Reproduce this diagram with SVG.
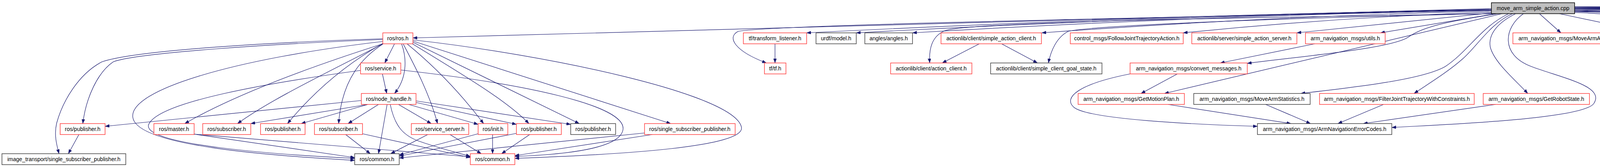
<svg xmlns="http://www.w3.org/2000/svg" width="7593" height="427" viewBox="0 0 7593 427">
<style>
.e{fill:none;stroke:#191970;stroke-width:1.2;marker-end:url(#ah)}
.n rect{fill:#ffffff;stroke-width:1.5}
.r rect{stroke:#ff4040}
.b rect{stroke:#404040}
.g rect{stroke:#bfbfbf}
.root rect{fill:#bfbfbf;stroke:#000000}
text{font-family:"Liberation Sans",Arial,Helvetica,sans-serif;font-size:14px;fill:#000000;text-anchor:middle}
</style>
<defs>
<marker id="ah" viewBox="0 0 11 8" refX="11" refY="4" markerWidth="11" markerHeight="8" markerUnits="userSpaceOnUse" orient="auto"><path d="M0,0 L11,4 L0,8 z" fill="#191970" stroke="#191970" stroke-width="0.5"/></marker>
</defs>
<rect x="0" y="0" width="7593" height="427" fill="#ffffff"/>
<g id="connectors">
<path class="e" d="M3818,22 L1057,97"/>
<path class="e" d="M3818,24 Q2940,40 2065,84"/>
<path class="e" d="M3818,26 C3000,45 2000,62 1890,80 C1860,95 1880,130 1962,161"/>
<path class="e" d="M3818,25 Q3005,40 2192,84"/>
<path class="e" d="M3818,26 Q3077,40 2336,84"/>
<path class="e" d="M3818,28 Q3242,42 2667,84"/>
<path class="e" d="M3822,35 C3200,45 2500,55 2420,78 C2385,92 2378,125 2380,161"/>
<path class="e" d="M3826,35 C3300,45 2800,65 2735,80 C2705,95 2690,130 2684,161"/>
<path class="e" d="M3818,31 Q3423,44 3029,84"/>
<path class="e" d="M3818,33 L3320,84"/>
<path class="e" d="M3830,35 L3534,84"/>
<path class="e" d="M3836,35 C3700,55 3640,70 3605,95 C3560,125 3320,145 3193,162"/>
<path class="e" d="M3845,35 L2981,239"/>
<path class="e" d="M3862,35 C3790,70 3760,130 3700,170 C3640,205 3450,225 3330,239"/>
<path class="e" d="M3872,35 C3815,60 3780,120 3745,150 C3705,185 3660,212 3620,239"/>
<path class="e" d="M3880,35 C3830,60 3810,90 3815,120 C3825,160 3880,205 3911,239"/>
<path class="e" d="M3900,35 C3850,70 3840,140 3920,170 C4000,200 4110,220 4080,265 C4050,305 3700,318 3563,326"/>
<path class="e" d="M3941,35 L3996,84"/>
<path class="e" d="M3992,35 L4225,84"/>
<path class="e" d="M4031,32 Q4253,40 4475,84"/>
<path class="e" d="M4031,30 Q4410,38 4788,84"/>
<path class="e" d="M4031,29 Q4539,36 5047,84"/>
<path class="e" d="M4031,28 Q4661,34 5291,84"/>
<path class="e" d="M4031,26 Q4840,32 5648,84"/>
<path class="e" d="M4031,27 C4800,40 5500,65 5570,77 C5610,90 5640,120 5676,161"/>
<path class="e" d="M4031,24 Q4967,30 5904,84"/>
<path class="e" d="M4031,23 Q5133,29 6235,84"/>
<path class="e" d="M4031,22 Q5268,28 6505,84"/>
<path class="e" d="M4031,23 C5500,50 6400,70 6440,82 C6480,100 6520,130 6545,161"/>
<path class="e" d="M4031,21 Q5434,27 6838,84"/>
<path class="e" d="M4031,20 Q5601,26 7172,84"/>
<path class="e" d="M4031,19 Q5677,25 7324,84"/>
<path class="e" d="M4031,18 Q5726,25 7421,84"/>
<path class="e" d="M4031,17 Q5779,24 7527,84"/>
<path class="e" d="M1984,112 L1984,161"/>
<path class="e" d="M2507,112 L2412,161"/>
<path class="e" d="M2564,112 L2656,161"/>
<path class="e" d="M3366,112 L3124,161"/>
<path class="e" d="M3014,189 L2921,239"/>
<path class="e" d="M2893,189 C2760,215 2720,250 2750,275 C2790,305 3050,318 3219,323"/>
<path class="e" d="M2990,267 L3305,316"/>
<path class="e" d="M3240,267 L3355,316"/>
<path class="e" d="M3542,267 L3425,316"/>
<path class="e" d="M3829,267 L3490,316"/>
<path class="e" d="M5748,112 L5701,161"/>
<path class="e" d="M6639,112 L6580,161"/>
<path class="e" d="M1010,112 L985,161"/>
<path class="e" d="M1028,112 C1042,150 1042,200 1010,239"/>
<path class="e" d="M979,189 L990,239"/>
<path class="e" d="M981,112 C930,145 875,200 867,316"/>
<path class="e" d="M980,111 Q840,190 736,316"/>
<path class="e" d="M1032,112 C1060,165 1100,240 1120,316"/>
<path class="e" d="M1042,112 Q1150,200 1238,316"/>
<path class="e" d="M1054,111 C1200,200 1300,260 1354,316"/>
<path class="e" d="M1057,108 L1483,316"/>
<path class="e" d="M1057,105 L1717,316"/>
<path class="e" d="M1057,102 C1400,140 1880,240 1898,325 C1910,375 1600,395 1318,405"/>
<path class="e" d="M1026,179 C1350,215 1600,270 1595,330 C1590,380 1450,395 1318,400"/>
<path class="e" d="M923,180 C700,210 400,260 380,320 C370,370 700,395 908,405"/>
<path class="e" d="M980,106 C600,150 330,230 340,300 C350,375 700,398 908,410"/>
<path class="e" d="M980,99 C700,108 350,128 261,158 C200,190 160,260 145,315 C138,345 145,370 151,393"/>
<path class="e" d="M980,101 C700,112 350,135 290,158 C250,185 220,250 212,316"/>
<path class="e" d="M980,112 Q640,220 473,316"/>
<path class="e" d="M980,112 C850,180 700,250 608,316"/>
<path class="e" d="M925,257 L269,323"/>
<path class="e" d="M942,267 L642,316"/>
<path class="e" d="M942,267 L771,316"/>
<path class="e" d="M969,267 L891,316"/>
<path class="e" d="M991,267 L969,393"/>
<path class="e" d="M999,267 C1010,320 1030,345 1070,360 C1120,378 1170,390 1204,400"/>
<path class="e" d="M1020,267 L1104,316"/>
<path class="e" d="M1046,267 L1224,318"/>
<path class="e" d="M1065,262 L1322,318"/>
<path class="e" d="M1065,258 L1461,318"/>
<path class="e" d="M202,344 L175,393"/>
<path class="e" d="M497,343 L908,403"/>
<path class="e" d="M497,343 L1204,401"/>
<path class="e" d="M885,344 L948,393"/>
<path class="e" d="M928,342 L1204,403"/>
<path class="e" d="M1095,344 L1000,393"/>
<path class="e" d="M1152,344 L1232,393"/>
<path class="e" d="M1224,342 L1022,396"/>
<path class="e" d="M1261,344 L1261,393"/>
<path class="e" d="M1322,341 L1022,399"/>
<path class="e" d="M1356,344 L1284,393"/>
<path class="e" d="M1650,340 L1022,404"/>
<path class="e" d="M1670,344 L1318,398"/>
</g>
<g id="root" class="n root"><rect x="3818" y="7" width="213" height="28"/><text x="3924.5" y="26">move_arm_simple_action.cpp</text></g>
<g id="n_ros" class="n r"><rect x="980" y="84" width="77" height="28"/><text x="1018.5" y="103">ros/ros.h</text></g>
<g id="n_tfl" class="n r"><rect x="1903" y="84" width="162" height="28"/><text x="1984" y="103">tf/transform_listener.h</text></g>
<g id="n_urdf" class="n b"><rect x="2089" y="84" width="103" height="28"/><text x="2140.5" y="103">urdf/model.h</text></g>
<g id="n_angles" class="n b"><rect x="2214" y="84" width="122" height="28"/><text x="2275" y="103">angles/angles.h</text></g>
<g id="n_sac" class="n r"><rect x="2409" y="84" width="257" height="28"/><text x="2537.5" y="103">actionlib/client/simple_action_client.h</text></g>
<g id="n_fjta" class="n r"><rect x="2740" y="84" width="289" height="28"/><text x="2884.5" y="103">control_msgs/FollowJointTrajectoryAction.h</text></g>
<g id="n_sas" class="n r"><rect x="3051" y="84" width="269" height="28"/><text x="3185.5" y="103">actionlib/server/simple_action_server.h</text></g>
<g id="n_utils" class="n r"><rect x="3342" y="84" width="204" height="28"/><text x="3444" y="103">arm_navigation_msgs/utils.h</text></g>
<g id="n_maa" class="n r"><rect x="3873" y="84" width="280" height="28"/><text x="4013" y="103">arm_navigation_msgs/MoveArmAction.h</text></g>
<g id="n_jt" class="n r"><rect x="4177" y="84" width="227" height="28"/><text x="4290.5" y="103">trajectory_msgs/JointTrajectory.h</text></g>
<g id="n_ik" class="n r"><rect x="4428" y="84" width="336" height="28"/><text x="4596" y="103">kinematics_msgs/GetConstraintAwarePositionIK.h</text></g>
<g id="n_fk" class="n b"><rect x="4788" y="84" width="236" height="28"/><text x="4906" y="103">kinematics_msgs/GetPositionFK.h</text></g>
<g id="n_shape" class="n b"><rect x="5047" y="84" width="219" height="28"/><text x="5156.5" y="103">arm_navigation_msgs/Shape.h</text></g>
<g id="n_dt" class="n r"><rect x="5289" y="84" width="284" height="28"/><text x="5431" y="103">arm_navigation_msgs/DisplayTrajectory.h</text></g>
<g id="n_ma" class="n b"><rect x="5647" y="84" width="233" height="28"/><text x="5763.5" y="103">visualization_msgs/MarkerArray.h</text></g>
<g id="n_co" class="n b"><rect x="5902" y="84" width="308" height="28"/><text x="6056" y="103">planning_environment/util/construct_object.h</text></g>
<g id="n_bodies" class="n r"><rect x="6233" y="84" width="197" height="28"/><text x="6331.5" y="103">geometric_shapes/bodies.h</text></g>
<g id="n_mu" class="n r"><rect x="6505" y="84" width="304" height="28"/><text x="6657" y="103">planning_environment/models/model_utils.h</text></g>
<g id="n_spsd" class="n r"><rect x="6833" y="84" width="316" height="28"/><text x="6991" y="103">arm_navigation_msgs/SetPlanningSceneDiff.h</text></g>
<g id="n_bool" class="n g"><rect x="7171" y="84" width="129" height="28"/><text x="7235.5" y="103">std_msgs/Bool.h</text></g>
<g id="n_val" class="n g"><rect x="7323" y="84" width="73" height="28"/><text x="7359.5" y="103">valarray</text></g>
<g id="n_alg" class="n g"><rect x="7420" y="84" width="82" height="28"/><text x="7461" y="103">algorithm</text></g>
<g id="n_cstd" class="n g"><rect x="7527" y="84" width="63" height="28"/><text x="7558.5" y="103">cstdlib</text></g>
<g id="n_srv" class="n r"><rect x="923" y="161" width="103" height="28"/><text x="974.5" y="180">ros/service.h</text></g>
<g id="n_tf" class="n r"><rect x="1957" y="161" width="55" height="28"/><text x="1984.5" y="180">tf/tf.h</text></g>
<g id="n_ac" class="n r"><rect x="2280" y="161" width="208" height="28"/><text x="2384" y="180">actionlib/client/action_client.h</text></g>
<g id="n_scgs" class="n b"><rect x="2536" y="161" width="285" height="28"/><text x="2678.5" y="180">actionlib/client/simple_client_goal_state.h</text></g>
<g id="n_cm" class="n r"><rect x="2893" y="161" width="300" height="28"/><text x="3043" y="180">arm_navigation_msgs/convert_messages.h</text></g>
<g id="n_marker" class="n b"><rect x="5586" y="161" width="201" height="28"/><text x="5686.5" y="180">visualization_msgs/Marker.h</text></g>
<g id="n_colm" class="n r"><rect x="6395" y="161" width="336" height="28"/><text x="6563" y="180">planning_environment/models/collision_models.h</text></g>
<g id="n_nh" class="n r"><rect x="925" y="239" width="140" height="28"/><text x="995" y="258">ros/node_handle.h</text></g>
<g id="n_gmp" class="n r"><rect x="2760" y="239" width="272" height="28"/><text x="2896" y="258">arm_navigation_msgs/GetMotionPlan.h</text></g>
<g id="n_mas" class="n b"><rect x="3056" y="239" width="298" height="28"/><text x="3205" y="258">arm_navigation_msgs/MoveArmStatistics.h</text></g>
<g id="n_fjt" class="n r"><rect x="3378" y="239" width="396" height="28"/><text x="3576" y="258">arm_navigation_msgs/FilterJointTrajectoryWithConstraints.h</text></g>
<g id="n_grs" class="n r"><rect x="3797" y="239" width="272" height="28"/><text x="3933" y="258">arm_navigation_msgs/GetRobotState.h</text></g>
<g id="n_pub1" class="n r"><rect x="154" y="316" width="115" height="28"/><text x="211.5" y="335">ros/publisher.h</text></g>
<g id="n_master" class="n r"><rect x="394" y="316" width="103" height="28"/><text x="445.5" y="335">ros/master.h</text></g>
<g id="n_sub1" class="n r"><rect x="519" y="316" width="123" height="28"/><text x="580.5" y="335">ros/subscriber.h</text></g>
<g id="n_pub2" class="n r"><rect x="667" y="316" width="114" height="28"/><text x="724" y="335">ros/publisher.h</text></g>
<g id="n_sub2" class="n r"><rect x="805" y="316" width="123" height="28"/><text x="866.5" y="335">ros/subscriber.h</text></g>
<g id="n_ss" class="n r"><rect x="1053" y="316" width="147" height="28"/><text x="1126.5" y="335">ros/service_server.h</text></g>
<g id="n_init" class="n r"><rect x="1224" y="316" width="76" height="28"/><text x="1262" y="335">ros/init.h</text></g>
<g id="n_pub3" class="n r"><rect x="1322" y="316" width="115" height="28"/><text x="1379.5" y="335">ros/publisher.h</text></g>
<g id="n_pub4" class="n b"><rect x="1461" y="316" width="115" height="28"/><text x="1518.5" y="335">ros/publisher.h</text></g>
<g id="n_rssp" class="n r"><rect x="1650" y="316" width="232" height="28"/><text x="1766" y="335">ros/single_subscriber_publisher.h</text></g>
<g id="n_ane" class="n b"><rect x="3219" y="316" width="344" height="28"/><text x="3391" y="335">arm_navigation_msgs/ArmNavigationErrorCodes.h</text></g>
<g id="n_itssp" class="n b"><rect x="5" y="393" width="317" height="28"/><text x="163.5" y="412">image_transport/single_subscriber_publisher.h</text></g>
<g id="n_cb" class="n b"><rect x="908" y="393" width="114" height="28"/><text x="965" y="412">ros/common.h</text></g>
<g id="n_cr" class="n r"><rect x="1204" y="393" width="114" height="28"/><text x="1261" y="412">ros/common.h</text></g>
</svg>
